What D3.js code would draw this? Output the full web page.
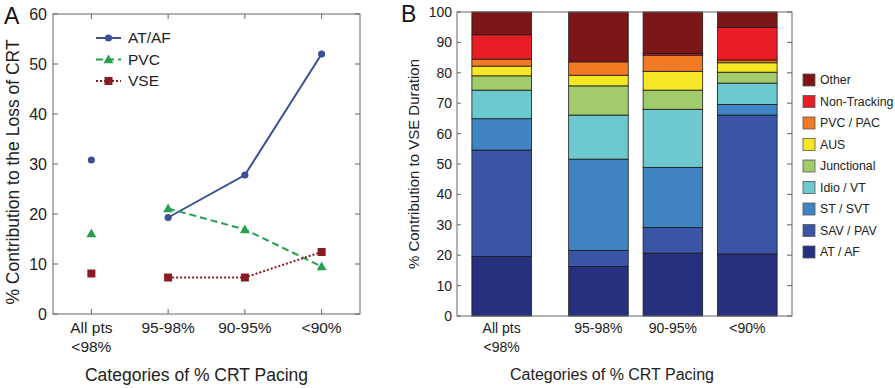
<!DOCTYPE html>
<html>
<head>
<meta charset="utf-8">
<script src="https://cdn.jsdelivr.net/npm/d3@7"></script>
<style>
  html, body { margin: 0; padding: 0; background: #fff; }
  svg { display: block; font-family: 'Liberation Sans', Arial, sans-serif; }
</style>
</head>
<body>
<div id="chart"></div>
<script>
// ---- Data ----
const categories = ['All pts\n<98%', '95-98%', '90-95%', '<90%'];

// Panel A: % contribution to the loss of CRT
const atafLoss = [30.8, 19.3, 27.8, 52.0];
const pvcLoss = [16.1, 21.1, 16.9, 9.5];
const vseLoss = [8.1, 7.3, 7.3, 12.4];
const lossTicks = [0, 10, 20, 30, 40, 50, 60];

// Panel B: % contribution to VSE duration (bottom to top)
const vseTypes = ['AT / AF', 'SAV / PAV', 'ST / SVT', 'Idio / VT', 'Junctional', 'AUS', 'PVC / PAC', 'Non-Tracking', 'Other'];
const vseAllPts = [19.6, 35.0, 10.3, 9.4, 4.7, 3.2, 2.3, 8.0, 7.5];
const vse9598 = [16.3, 5.3, 30.0, 14.5, 9.6, 3.5, 4.4, 0.0, 16.4];
const vse9095 = [20.7, 8.4, 19.8, 19.1, 6.3, 6.2, 5.3, 0.5, 13.7];
const vseLt90 = [20.4, 45.7, 3.5, 7.0, 3.6, 3.1, 0.9, 10.7, 5.1];
const barPositions = [1, 2.3, 3.3, 4.3];
const durTicks = [0, 10, 20, 30, 40, 50, 60, 70, 80, 90, 100];

const typeColors = ['#27307f', '#3a55a5', '#4184c4', '#6dc9cf', '#a2cc6b', '#f5e723', '#f27a24', '#e91d26', '#7e1517'];

const W = 895, H = 388;
const axisColor = '#666';
const textColor = '#222';

const svg = d3.select('#chart').append('svg').attr('width', W).attr('height', H);

// ============ Panel A ============
const a = { left: 53, right: 360, top: 14, bottom: 314 };
const xA = d3.scaleLinear().domain([0.5, 4.5]).range([a.left, a.right]);
const yA = d3.scaleLinear().domain([0, 60]).range([a.bottom, a.top]);

svg.append('rect')
  .attr('x', a.left).attr('y', a.top)
  .attr('width', a.right - a.left).attr('height', a.bottom - a.top)
  .attr('fill', 'none').attr('stroke', axisColor).attr('stroke-width', 1);

const tickG = svg.append('g').attr('stroke', axisColor).attr('stroke-width', 1);
lossTicks.forEach(t => {
  const y = yA(t);
  tickG.append('line').attr('x1', a.left).attr('x2', a.left + 5).attr('y1', y).attr('y2', y);
  tickG.append('line').attr('x1', a.right).attr('x2', a.right - 5).attr('y1', y).attr('y2', y);
});
categories.forEach((c, i) => {
  const x = xA(i + 1);
  tickG.append('line').attr('x1', x).attr('x2', x).attr('y1', a.bottom).attr('y2', a.bottom - 5);
  tickG.append('line').attr('x1', x).attr('x2', x).attr('y1', a.top).attr('y2', a.top + 5);
});

svg.append('g').selectAll('text').data(lossTicks).join('text')
  .attr('x', a.left - 6).attr('y', d => yA(d)).attr('dy', '0.35em')
  .attr('text-anchor', 'end').attr('fill', textColor).style('font-size', '16px')
  .text(d => d);

function catLabels(scale, positions, yTop, size) {
  categories.forEach((c, i) => {
    const lines = c.split('\n');
    const t = svg.append('text')
      .attr('x', scale(positions[i])).attr('y', yTop)
      .attr('text-anchor', 'middle').attr('fill', textColor).style('font-size', size);
    lines.forEach((l, j) => {
      t.append('tspan').attr('x', scale(positions[i])).attr('dy', j === 0 ? 0 : 19).text(l);
    });
  });
}
catLabels(xA, [1, 2, 3, 4], 333, '15.5px');

svg.append('text')
  .attr('x', (a.left + a.right) / 2 - 10).attr('y', 381)
  .attr('text-anchor', 'middle').attr('fill', textColor).style('font-size', '17.5px')
  .text('Categories of % CRT Pacing');

svg.append('text')
  .attr('transform', `translate(19,172) rotate(-90)`)
  .attr('text-anchor', 'middle').attr('fill', textColor).style('font-size', '17.5px')
  .text('% Contribution to the Loss of CRT');

svg.append('text').attr('x', 4).attr('y', 24).attr('fill', '#111')
  .style('font-size', '23px').text('A');

const seriesA = [
  { name: 'AT/AF', values: atafLoss, color: '#3b4f96', dash: null, marker: 'circle' },
  { name: 'PVC', values: pvcLoss, color: '#25a04e', dash: '7,4', marker: 'triangle' },
  { name: 'VSE', values: vseLoss, color: '#8a1b22', dash: '2,2', marker: 'square' },
];

const lineA = d3.line().x(d => xA(d.i + 1)).y(d => yA(d.v));

function drawMarker(g, type, x, y, color) {
  if (type === 'circle') {
    g.append('circle').attr('cx', x).attr('cy', y).attr('r', 3.6).attr('fill', color);
  } else if (type === 'triangle') {
    g.append('path').attr('d', d3.symbol(d3.symbolTriangle, 42)()).attr('transform', `translate(${x},${y + 0.8})`).attr('fill', color);
  } else {
    g.append('rect').attr('x', x - 4).attr('y', y - 4).attr('width', 8).attr('height', 8).attr('fill', color);
  }
}

seriesA.forEach(s => {
  const pts = s.values.map((v, i) => ({ i, v }));
  svg.append('path').datum(pts.slice(1))
    .attr('d', lineA).attr('fill', 'none')
    .attr('stroke', s.color).attr('stroke-width', 2)
    .attr('stroke-dasharray', s.dash);
  const mg = svg.append('g');
  pts.forEach(p => drawMarker(mg, s.marker, xA(p.i + 1), yA(p.v), s.color));
});

// legend A
seriesA.forEach((s, i) => {
  const y = 38 + i * 21.5;
  svg.append('line').attr('x1', 96).attr('x2', 121).attr('y1', y).attr('y2', y)
    .attr('stroke', s.color).attr('stroke-width', 2).attr('stroke-dasharray', s.dash);
  const mg = svg.append('g');
  drawMarker(mg, s.marker, 108.5, y, s.color);
  svg.append('text').attr('x', 128).attr('y', y).attr('dy', '0.35em')
    .attr('fill', textColor).style('font-size', '15.5px').text(s.name);
});

// ============ Panel B ============
const b = { left: 457, right: 792, top: 12, bottom: 316 };
const xB = d3.scaleLinear().domain([0.4, 4.9]).range([b.left, b.right]);
const yB = d3.scaleLinear().domain([0, 100]).range([b.bottom, b.top]);
const barW = xB(0.8) - xB(0);

const barData = [vseAllPts, vse9598, vse9095, vseLt90];
const stackRows = barData.map((vals, i) => {
  const row = { pos: barPositions[i] };
  vseTypes.forEach((t, k) => { row[t] = vals[k]; });
  return row;
});
const stacked = d3.stack().keys(vseTypes)(stackRows);

const barsG = svg.append('g');
stacked.forEach((layer, k) => {
  barsG.selectAll(null).data(layer).join('rect')
    .attr('x', d => xB(d.data.pos) - barW / 2)
    .attr('y', d => yB(d[1]))
    .attr('width', barW)
    .attr('height', d => yB(d[0]) - yB(d[1]))
    .attr('fill', typeColors[k])
    .attr('stroke', '#1a1a1a').attr('stroke-width', 0.8);
});

svg.append('rect')
  .attr('x', b.left).attr('y', b.top)
  .attr('width', b.right - b.left).attr('height', b.bottom - b.top)
  .attr('fill', 'none').attr('stroke', axisColor).attr('stroke-width', 1);

const tickB = svg.append('g').attr('stroke', axisColor).attr('stroke-width', 1);
durTicks.forEach(t => {
  const y = yB(t);
  tickB.append('line').attr('x1', b.right).attr('x2', b.right - 5).attr('y1', y).attr('y2', y);
  tickB.append('line').attr('x1', b.left).attr('x2', b.left + 4).attr('y1', y).attr('y2', y);
});

svg.append('g').selectAll('text').data(durTicks).join('text')
  .attr('x', b.left - 5).attr('y', d => yB(d)).attr('dy', '0.35em')
  .attr('text-anchor', 'end').attr('fill', textColor).style('font-size', '14px')
  .text(d => d);

catLabels(xB, barPositions, 333, '14px');

svg.append('text')
  .attr('x', 612).attr('y', 380)
  .attr('text-anchor', 'middle').attr('fill', textColor).style('font-size', '16px')
  .text('Categories of % CRT Pacing');

svg.append('text')
  .attr('transform', `translate(419,${(b.top + b.bottom) / 2}) rotate(-90)`)
  .attr('text-anchor', 'middle').attr('fill', textColor).style('font-size', '15px')
  .text('% Contribution to VSE Duration');

svg.append('text').attr('x', 401).attr('y', 22).attr('fill', '#111')
  .style('font-size', '23px').text('B');

// legend B (top to bottom: Other ... AT / AF)
const legendOrder = vseTypes.map((t, k) => ({ t, k })).reverse();
legendOrder.forEach((d, i) => {
  const y = 80 + i * 21.5;
  svg.append('rect').attr('x', 803).attr('y', y - 6).attr('width', 12).attr('height', 12)
    .attr('fill', typeColors[d.k]).attr('stroke', '#555').attr('stroke-width', 0.8);
  svg.append('text').attr('x', 820).attr('y', y).attr('dy', '0.35em')
    .attr('fill', textColor).style('font-size', '12.3px').text(d.t);
});
</script>
</body>
</html>
